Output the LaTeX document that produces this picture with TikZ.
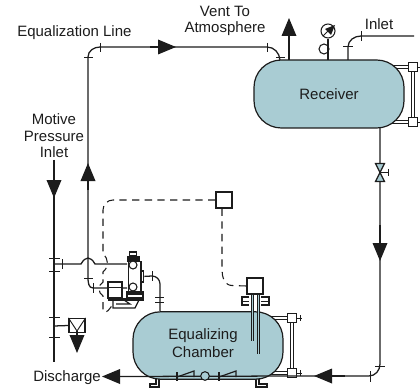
\documentclass[tikz,border=0pt]{standalone}
\usepackage{fontspec}
\setmainfont{Liberation Sans}
\usetikzlibrary{arrows.meta}
\definecolor{vessel}{HTML}{A9CCD3}
\definecolor{ink}{HTML}{1C1C1C}
\tikzset{
  pipe/.style={draw=ink,line width=0.95pt},
  thin pipe/.style={draw=ink,line width=0.7pt},
  dash pipe/.style={draw=ink,line width=0.8pt,dash pattern=on 5.5pt off 4pt},
  head/.style={-{Triangle[length=13.5pt,width=11pt]},draw=ink,line width=0.95pt,shorten >=0pt},
  tank/.style={draw=ink,line width=0.9pt,fill=vessel,rounded corners=20.5pt,inner sep=0pt,font=\fontsize{11.25pt}{12.4pt}\selectfont,text=ink,align=center,minimum width=112.5pt},
  lbl/.style={inner sep=0pt,font=\fontsize{11.25pt}{12.4pt}\selectfont,text=ink,align=center},
  sqbox/.style={draw=ink,line width=0.9pt,fill=white,inner sep=0pt,minimum size=#1},
  ring/.style={draw=ink,line width=0.8pt,fill=white,circle,inner sep=0pt,minimum size=#1},
  twin/.style={draw=ink,line width=2.8pt,postaction={draw=white,line width=1.1pt}},
  probe/.style={draw=ink,line width=2.4pt,postaction={draw=vessel,line width=0.8pt}},
}
\begin{document}
\begin{tikzpicture}[x=0.75pt,y=-0.75pt]
\useasboundingbox (0,0) rectangle (420,388);
% labels
\node[lbl,anchor=west] (eql) at (17,33) {Equalization Line};
\node[lbl] (vent) at (225,21) {Vent To\\Atmosphere};
\node[lbl] (inl) at (379,24) {Inlet};
\node[lbl] (mot) at (54,136) {Motive\\Pressure\\Inlet};
\node[lbl,anchor=west] (dis) at (33,378) {Discharge};
% right hand double-line gauge columns (behind tanks)
\node[sqbox=6.8pt] (rt) at (413,67) {};
\node[sqbox=6.8pt] (rb) at (413,122) {};
\node[sqbox=6.8pt] (ct) at (292,318) {};
\node[sqbox=6.8pt] (cb) at (292,373) {};
\coordinate (rtl) at (385,67); \coordinate (rbl) at (385,122);
\coordinate (ctl) at (265,318); \coordinate (cbl) at (265,373);
\path[twin] (rt) -- (rb); \path[twin] (rtl) -- (rt); \path[twin] (rbl) -- (rb);
\path[twin] (ct) -- (cb); \path[twin] (ctl) -- (ct); \path[twin] (cbl) -- (cb);
\node[sqbox=6.8pt] at (rt) {}; \node[sqbox=6.8pt] at (rb) {};
\node[sqbox=6.8pt] at (ct) {}; \node[sqbox=6.8pt] at (cb) {};
\coordinate (rte) at (420,67); \coordinate (rbe) at (420,122);
\coordinate (cte) at (302,318); \coordinate (cbe) at (302,373);
\draw[thin pipe] (rt) -- (rte); \draw[thin pipe] (rb) -- (rbe);
\draw[thin pipe] (ct.east) -- (cte); \draw[thin pipe] (cb.east) -- (cbe);
\draw[thin pipe] (300,315) -- (300,321); \draw[thin pipe] (300,370) -- (300,376);
% feet
\draw[thin pipe,line width=0.8pt] (156,379) -- (156,384) -- (150,384) -- (150,387) -- (159,387) -- (159,379);
\draw[thin pipe,line width=0.8pt] (256,379) -- (256,387) -- (267,387) -- (267,384) -- (259,384) -- (259,379);
% vessels
\node[tank,minimum height=51pt] (rec) at (329,94) {Receiver};
\node[tank,minimum height=50.5pt] (cha) at (208,345.5) {};
\node[lbl] (chal) at (203,343) {Equalizing\\[1pt]Chamber};
% equalization line
\coordinate (a0) at (88,278);
\coordinate (a1) at (88,57);
\coordinate (a2) at (100,47);
\coordinate (a3) at (267,47);
\coordinate (a4) at (280,60);
\coordinate (aup) at (88,163);
\coordinate (arw) at (176,47);
\draw[pipe] (a0) -- (a1) to[out=90,in=180] (a2) -- (a3) to[out=0,in=95] (a4);
\draw[head] (88,190) -- (aup);
\draw[head] (150,47) -- (arw);
\draw[thin pipe] (84,57) -- (93,57);
\draw[thin pipe] (100.5,43) -- (100.5,52);
\draw[thin pipe] (267,43) -- (267,52);
\draw[thin pipe] (276,57) -- (285,57);
% motive inlet line
\coordinate (m0) at (54,160);
\coordinate (m1) at (54,362);
\draw[pipe] (m0) -- (m1);
\draw[head] (54,165) -- (54,198);
\foreach \yy in {258,271,317,337} \draw[thin pipe] (49,\yy) -- (60,\yy);
% branch to trap with hop
\coordinate (b0) at (54,264);
\coordinate (b1) at (81,264);
\coordinate (b2) at (95,264);
\coordinate (b3) at (127,264);
\draw[pipe] (b0) -- (b1) to[out=60,in=120,looseness=1.7] (b2) -- (b3);
\draw[thin pipe] (62,259) -- (62,269);
% lower branch
\coordinate (c1) at (93,288);
\coordinate (c2) at (127,288);
\draw[pipe] (a0) to[out=-90,in=180] (c1) -- (c2);
\draw[thin pipe] (84,278) -- (93,278);
\draw[thin pipe] (93,283) -- (93,293);
% steam trap device
\node[draw=ink,line width=1pt,fill=white,minimum width=9.5pt,minimum height=23pt,inner sep=0pt] (body) at (134.5,276.5) {};
\node[draw=ink,fill=ink,minimum width=9pt,minimum height=3.7pt,inner sep=0pt] (cap1) at (133,258.5) {};
\node[draw=ink,line width=1pt,fill=white,minimum width=5.5pt,minimum height=3pt,inner sep=0pt] (cap0) at (133,254) {};
\node[ring=6pt] (o1) at (133,265) {};
\node[ring=6pt] (o2) at (133,287) {};
\node[draw=ink,line width=0.9pt,fill=white,minimum width=2pt,minimum height=8.2pt,inner sep=0pt] (plug) at (142.5,276.5) {};
\node[draw=ink,line width=0.9pt,fill=white,minimum width=10.5pt,minimum height=12pt,inner sep=0pt] (pbox) at (115,290) {};
\draw[thin pipe] (pbox.west |- 0,287) -- (pbox.east |- 0,287);
\node[draw=ink,line width=0.9pt,fill=white,minimum width=12pt,minimum height=4.5pt,inner sep=0pt] (blk) at (135,295) {};
\node[draw=ink,fill=ink,minimum width=12pt,minimum height=1.6pt,inner sep=0pt] (blk2) at (135,293) {};
\node[draw=ink,fill=ink,minimum width=26pt,minimum height=1.6pt,inner sep=0pt] (band) at (125.5,299) {};
\draw[draw=ink,line width=0.9pt] (113,300) -- (113,308) -- (135,308) -- (139,300);
\draw[thin pipe,line width=0.9pt] (116,304) -- (130,304) -- (124,300);
% discharge of device to chamber
\coordinate (d1) at (152,276);
\coordinate (d2) at (160,284);
\draw[pipe] (plug) -- (d1) to[out=0,in=90] (d2) -- (d2 |- cha.north);
\draw[thin pipe] (152,271) -- (152,281);
\draw[thin pipe] (155,297) -- (164,297); \draw[thin pipe] (155,302) -- (164,302);
% controller and dashed lines
\node[sqbox=12pt] (ctl) at (224,200) {};
\node[sqbox=12pt] (sw) at (255,286) {};
\coordinate (e1) at (113,200);
\coordinate (e2) at (103,210);
\coordinate (e3) at (103,254);
\coordinate (e4) at (103,272);
\coordinate (e5) at (103,282);
\coordinate (e6) at (103,296);
\coordinate (e7) at (103,310);
\coordinate (e8) at (111,303);
\draw[dash pipe] (ctl) -- (e1) to[out=180,in=90] (e2) -- (e3) to[out=-40,in=40,looseness=1.1] (e4) -- (e5) to[out=-150,in=150,looseness=1.1] (e6) -- (e7) to[out=-90,in=-60,looseness=1.4] (e8);
\coordinate (f1) at (222,270);
\coordinate (f2) at (232,285.5);
\draw[dash pipe] (ctl.south -| f1) -- (f1) to[out=-90,in=180] (f2) -- (sw.west);
% fins and probes
\foreach \xa/\xb/\dirn in {242/249/1,269/261/-1}{
  \draw[thin pipe,line width=0.9pt] (\xb,297) -- (\xa,297) -- (\xa,305) -- (\xb,305);
  \draw[thin pipe] (\xa,301) -- (\xb,301);
}
\coordinate (p1) at (252.5,341);
\coordinate (p2) at (258.5,354);
\path[probe] (sw.south -| p1) -- (p1);
\path[probe] (sw.south -| p2) -- (p2);
% vessel bottom line, discharge and check valves
\coordinate (g0) at (297,376);
\coordinate (g1) at (120,376.5);
\draw[pipe] (g0) -- (g1);
\draw[head] (125,376.5) -- (102,376.5);
\draw[thin pipe,line width=0.9pt] (177,372) -- (177,381);
\draw[thin pipe,line width=0.9pt] (177,377) -- (194,371) -- (194,377);
\draw[thin pipe,line width=0.9pt] (219,372) -- (219,381);
\draw[thin pipe,line width=0.9pt] (219,377) -- (236,371) -- (236,377);
\node[ring=6.5pt,fill=vessel] (chk) at (205,376) {};
% receiver return pipe
\coordinate (h0) at (380,128);
\coordinate (h1) at (380,364);
\coordinate (h2) at (369,376);
\draw[pipe] (h0) -- (h1) to[out=-90,in=0] (h2) -- (g0);
\draw[head] (380,225) -- (380,261);
\draw[head] (345,376) -- (314,376);
\draw[thin pipe] (375,366) -- (385,366);
\draw[thin pipe] (370,371) -- (370,382);
% valve
\coordinate (v0) at (380,172.5);
\draw[thin pipe,fill=vessel,line width=0.9pt] (375.5,163.5) -- (384.5,163.5) -- (375.5,181.5) -- (384.5,181.5) -- cycle;
\draw[thin pipe] (v0) -- (388,172.5);
\draw[thin pipe] (388,169) -- (388,176);
% vent
\coordinate (k0) at (289,60);
\draw[head] (k0) -- (289,18);
% gauge
\node[ring=10.5pt] (g) at (328,31) {};
\node[ring=7.5pt] (gs) at (324,49) {};
\draw[pipe] (g) -- (328,60);
\fill[ink] (335,25) -- (325,29) -- (331,35) -- cycle;
\draw[thin pipe] (323,36) -- (332,27);
% inlet
\coordinate (n0) at (348,60);
\coordinate (n1) at (348,47);
\coordinate (n2) at (361,36);
\coordinate (n3) at (414,36);
\draw[pipe] (n0) -- (n1) to[out=90,in=180] (n2) -- (n3);
\draw[thin pipe] (343,46) -- (353,46);
\draw[thin pipe] (361,31) -- (361,41);
% strainer box
\node[sqbox=12pt,minimum height=10.5pt,minimum width=12pt] (st) at (77,325.5) {};
\draw[pipe] (54,326) -- (st.west);
\draw[thin pipe] (st.north west) -- (77,331) -- (st.north east);
\draw[head] (77,331) -- (77,353);
\end{tikzpicture}
\end{document}
